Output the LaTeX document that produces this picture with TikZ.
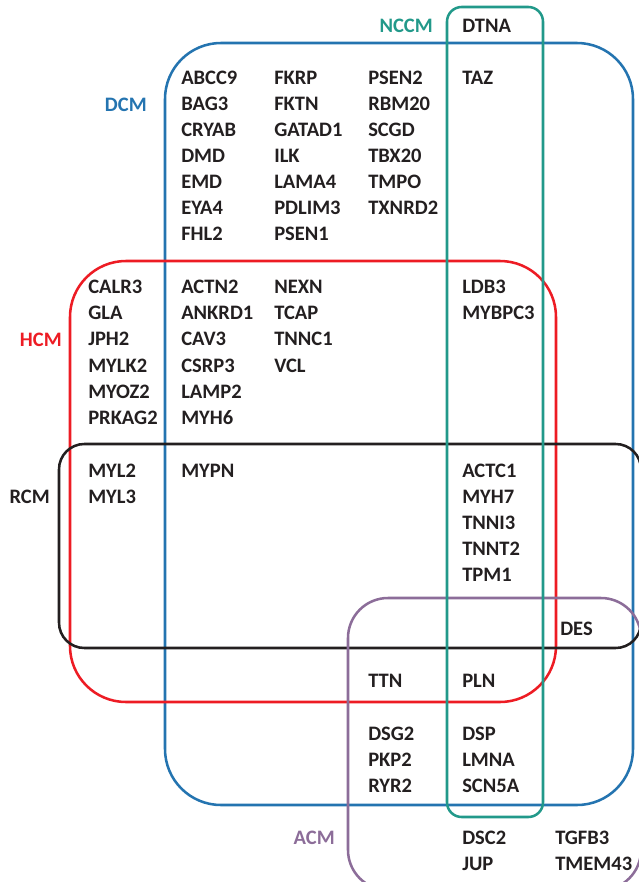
\documentclass[tikz,border=0pt]{standalone}
\usepackage{fontspec}
\setmainfont{Carlito}
\definecolor{dcmblue}{RGB}{36,116,176}
\definecolor{nccmteal}{RGB}{34,153,138}
\definecolor{hcmred}{RGB}{237,28,36}
\definecolor{acmpurple}{RGB}{140,109,153}
\definecolor{txtblack}{RGB}{35,31,32}

\begin{document}
\begin{tikzpicture}[x=0.75pt,y=-0.75pt,
  gene/.style={anchor=base west,inner sep=0pt,text=txtblack,font=\bfseries\fontsize{15.4}{18}\selectfont},
  setlabel/.style={anchor=base east,inner sep=0pt,font=\bfseries\fontsize{15.4}{18}\selectfont},
  setbox/.style={line width=1.9pt}]
\useasboundingbox (0,0) rectangle (639,882);
%sets:
\draw[setbox,dcmblue,rounded corners=42pt] (165,43) rectangle (633,805);
\draw[setbox,hcmred,rounded corners=42pt] (70,261) rectangle (556,702);
\draw[setbox,txtblack,rounded corners=19pt] (59,444) rectangle (641,648);
\draw[setbox,acmpurple,rounded corners=30pt] (348,598) rectangle (641,890);
\draw[setbox,nccmteal,rounded corners=11pt] (447,7) rectangle (543,817);
%set labels:
\node[setlabel,text=nccmteal] (NCCM) at (433,32) {NCCM};
\node[setlabel,text=dcmblue] (DCM) at (147,111) {DCM};
\node[setlabel,text=hcmred] (HCM) at (62,346) {HCM};
\node[setlabel,text=txtblack] (RCM) at (50,503) {RCM};
\node[setlabel,text=acmpurple] (ACM) at (335,844) {ACM};
%DCM only:
\foreach \g [count=\i from 0] in {ABCC9,BAG3,CRYAB,DMD,EMD,EYA4,FHL2}
  \node[gene] (\g) at (181,{84+26.1*\i}) {\g};
\foreach \g [count=\i from 0] in {FKRP,FKTN,GATAD1,ILK,LAMA4,PDLIM3,PSEN1}
  \node[gene] (\g) at (274,{84+26.1*\i}) {\g};
\foreach \g [count=\i from 0] in {PSEN2,RBM20,SCGD,TBX20,TMPO,TXNRD2}
  \node[gene] (\g) at (368,{84+26.1*\i}) {\g};
\node[gene] (DTNA) at (462,32) {DTNA};
\node[gene] (TAZ) at (462,84) {TAZ};
%HCM:
\foreach \g [count=\i from 0] in {CALR3,GLA,JPH2,MYLK2,MYOZ2,PRKAG2}
  \node[gene] (\g) at (88,{293.5+26.2*\i}) {\g};
\foreach \g [count=\i from 0] in {ACTN2,ANKRD1,CAV3,CSRP3,LAMP2,MYH6}
  \node[gene] (\g) at (181,{293.5+26.2*\i}) {\g};
\foreach \g [count=\i from 0] in {NEXN,TCAP,TNNC1,VCL}
  \node[gene] (\g) at (274,{293.5+26.2*\i}) {\g};
\foreach \g [count=\i from 0] in {LDB3,MYBPC3}
  \node[gene] (\g) at (462,{293.5+26.2*\i}) {\g};
%RCM:
\foreach \g [count=\i from 0] in {MYL2,MYL3}
  \node[gene] (\g) at (88,{477+26.1*\i}) {\g};
\node[gene] (MYPN) at (181,477) {MYPN};
\foreach \g [count=\i from 0] in {ACTC1,MYH7,TNNI3,TNNT2,TPM1}
  \node[gene] (\g) at (462,{477+26.1*\i}) {\g};
\node[gene] (DES) at (560,635) {DES};
%ACM:
\node[gene] (TTN) at (368,687) {TTN};
\node[gene] (PLN) at (462,687) {PLN};
\foreach \g [count=\i from 0] in {DSG2,PKP2,RYR2}
  \node[gene] (\g) at (368,{740+26*\i}) {\g};
\foreach \g [count=\i from 0] in {DSP,LMNA,SCN5A}
  \node[gene] (\g) at (462,{740+26*\i}) {\g};
\foreach \g [count=\i from 0] in {DSC2,JUP}
  \node[gene] (\g) at (462,{844+26*\i}) {\g};
\foreach \g [count=\i from 0] in {TGFB3,TMEM43}
  \node[gene] (\g) at (555,{844+26*\i}) {\g};
\end{tikzpicture}
\end{document}
